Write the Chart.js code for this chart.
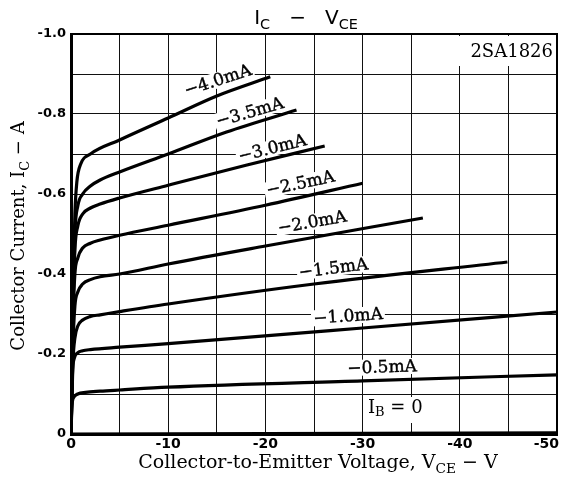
<!DOCTYPE html>
<html>
<head>
<meta charset="utf-8">
<script src="https://cdn.jsdelivr.net/npm/chart.js@4/dist/chart.umd.min.js"></script>
<style>
  html, body { margin: 0; padding: 0; background: #fff; }
  #wrap { width: 563px; height: 482px; }
</style>
</head>
<body>
<div id="wrap"><canvas id="c" width="563" height="482"></canvas></div>
<script>
// base current curves, Vce (V) / Ic (A)
const ib40V = [0, -0.2, -0.4, -0.6, -1, -2, -5, -10, -15, -20.5];
const ib40I = [0, -0.35, -0.55, -0.63, -0.675, -0.70, -0.735, -0.79, -0.845, -0.893];
const ib35V = [0, -0.2, -0.4, -0.7, -1.2, -2, -3, -5, -10, -16, -23.2];
const ib35I = [0, -0.3, -0.5, -0.57, -0.6, -0.62, -0.635, -0.655, -0.70, -0.755, -0.81];
const ib30V = [0, -0.2, -0.4, -0.7, -1.2, -2, -3, -5, -10, -18, -26.1];
const ib30I = [0, -0.3, -0.46, -0.52, -0.55, -0.565, -0.575, -0.59, -0.622, -0.672, -0.72];
const ib25V = [0, -0.2, -0.4, -0.7, -1.2, -2, -3, -5, -10, -20, -30];
const ib25I = [0, -0.28, -0.4, -0.44, -0.465, -0.477, -0.485, -0.497, -0.522, -0.572, -0.627];
const ib20V = [0, -0.2, -0.4, -0.7, -1.2, -2, -3, -5, -10, -20, -36.2];
const ib20I = [0, -0.22, -0.32, -0.355, -0.375, -0.386, -0.393, -0.40, -0.425, -0.47, -0.54];
const ib15V = [0, -0.2, -0.4, -0.7, -1.2, -2, -3, -5, -10, -25, -44.9];
const ib15I = [0, -0.18, -0.24, -0.27, -0.285, -0.294, -0.298, -0.306, -0.325, -0.375, -0.43];
const ib10V = [0, -0.15, -0.35, -0.7, -1.2, -2, -5, -10, -30, -50];
const ib10I = [0, -0.15, -0.19, -0.203, -0.208, -0.211, -0.217, -0.226, -0.265, -0.305];
const ib05V = [0, -0.1, -0.3, -0.7, -1.5, -3, -5, -10, -30, -50];
const ib05I = [0, -0.07, -0.092, -0.1, -0.104, -0.107, -0.11, -0.117, -0.133, -0.148];
const ib0V = [0, -50];
const ib0I = [0, -0.003];

const xTickLabels = ['0', '-10', '-20', '-30', '-40', '-50'];
const yTickLabels = ['0', '-0.2', '-0.4', '-0.6', '-0.8', '-1.0'];

// curve labels: text, Vce, Ic, angle (deg)
const curveLabelText = ['−4.0mA', '−3.5mA', '−3.0mA', '−2.5mA', '−2.0mA', '−1.5mA', '−1.0mA', '−0.5mA'];
const curveLabelV = [-15.1, -18.4, -20.7, -23.6, -24.8, -27, -28.5, -32];
const curveLabelI = [-0.885, -0.805, -0.715, -0.627, -0.53, -0.415, -0.295, -0.1675];
const curveLabelAngle = [18, 16, 14, 12, 10, 7, 4, 2];

const serif = '"DejaVu Serif", "Liberation Serif", serif';
const sans = '"DejaVu Sans", "Liberation Sans", sans-serif';

function pts(vs, is) {
  return vs.map((v, i) => ({ x: v, y: is[i] }));
}

const curves = [
  [ib40V, ib40I], [ib35V, ib35I], [ib30V, ib30I], [ib25V, ib25I],
  [ib20V, ib20I], [ib15V, ib15I], [ib10V, ib10I], [ib05V, ib05I], [ib0V, ib0I]
];

function xLabel(v) {
  const k = Math.round(-v);
  return k % 10 === 0 ? xTickLabels[k / 10] : '';
}

// draw text pieces with subscripts, returns width
function drawRich(ctx, parts, x, y, size, family, measureOnly) {
  let cx = x;
  parts.forEach(p => {
    const s = p.sub ? size * 0.72 : size;
    ctx.font = s + 'px ' + family;
    if (!measureOnly) ctx.fillText(p.t, cx, y + (p.sub ? size * 0.25 : 0));
    cx += ctx.measureText(p.t).width;
  });
  return cx - x;
}

const textPlugin = {
  id: 'texts',
  beforeDatasetsDraw(chart) {
    const ctx = chart.ctx;
    const xs = chart.scales.x, ys = chart.scales.y;
    ctx.save();
    ctx.textBaseline = 'middle';
    ctx.textAlign = 'center';
    curveLabelText.forEach((t, i) => {
      const px = xs.getPixelForValue(curveLabelV[i]);
      const py = ys.getPixelForValue(curveLabelI[i]);
      ctx.save();
      ctx.translate(px, py);
      ctx.rotate(-curveLabelAngle[i] * Math.PI / 180);
      ctx.font = '17px ' + serif;
      const w = ctx.measureText(t).width;
      ctx.fillStyle = '#fff';
      ctx.fillRect(-w / 2 - 2, -8, w + 4, 16);
      ctx.fillStyle = '#000';
      ctx.strokeStyle = '#000';
      ctx.lineWidth = 0.4;
      ctx.fillText(t, 0, 1);
      ctx.strokeText(t, 0, 1);
      ctx.restore();
    });

    // part number box
    const ca = chart.chartArea;
    ctx.fillStyle = '#fff';
    ctx.fillRect(456, ca.top + 2, ca.right - 458, 30);
    ctx.fillStyle = '#000';
    ctx.textAlign = 'right';
    ctx.font = '18px ' + serif;
    ctx.fillText('2SA1826', ca.right - 4, ca.top + 18);

    // IB = 0
    ctx.textAlign = 'left';
    ctx.fillStyle = '#fff';
    ctx.fillRect(366, 397, 60, 26);
    ctx.fillStyle = '#000';
    drawRich(ctx, [{ t: 'I' }, { t: 'B', sub: true }, { t: ' = 0' }], 368, 408, 18, serif);
    ctx.restore();
  },
  afterDraw(chart) {
    const ctx = chart.ctx;
    const ca = chart.chartArea;
    const xs = chart.scales.x;
    ctx.save();
    ctx.strokeStyle = '#000';
    ctx.lineWidth = 2;
    ctx.strokeRect(ca.left, ca.top, ca.right - ca.left, ca.bottom - ca.top);
    ctx.fillStyle = '#000';

    // x tick labels, last one kept inside the canvas
    ctx.font = 'bold 14px ' + sans;
    ctx.textBaseline = 'top';
    xs.ticks.forEach(t => {
      const lab = xLabel(t.value);
      if (!lab) return;
      const px = xs.getPixelForValue(t.value);
      const w = ctx.measureText(lab).width;
      ctx.textAlign = 'center';
      ctx.fillText(lab, Math.min(px, ca.right + 2 - w / 2), ca.bottom + 3);
    });

    ctx.textBaseline = 'alphabetic';
    ctx.textAlign = 'left';

    // title
    const title = [{ t: 'I' }, { t: 'C', sub: true }, { t: '   −   V' }, { t: 'CE', sub: true }];
    const tw = drawRich(ctx, title, 0, 0, 20, sans, true);
    drawRich(ctx, title, 306 - tw / 2, 24, 20, sans);

    // x axis title
    const xt = [{ t: 'Collector-to-Emitter Voltage, V' }, { t: 'CE', sub: true }, { t: ' − V' }];
    const xw = drawRich(ctx, xt, 0, 0, 19, serif, true);
    drawRich(ctx, xt, 318 - xw / 2, 468, 19, serif);

    // y axis title
    const yt = [{ t: 'Collector Current, I' }, { t: 'C', sub: true }, { t: ' − A' }];
    const yw = drawRich(ctx, yt, 0, 0, 18, serif, true);
    ctx.translate(24, 236);
    ctx.rotate(-Math.PI / 2);
    drawRich(ctx, yt, -yw / 2, 0, 18, serif);
    ctx.restore();
  }
};

new Chart(document.getElementById('c'), {
  type: 'scatter',
  data: {
    datasets: curves.map(c => ({
      data: pts(c[0], c[1]),
      showLine: true,
      borderColor: '#000',
      borderWidth: 3.2,
      pointRadius: 0,
      cubicInterpolationMode: 'monotone'
    }))
  },
  options: {
    responsive: false,
    animation: false,
    layout: { padding: { top: 34, right: 6, left: 0, bottom: 0 } },
    plugins: { legend: { display: false }, tooltip: { enabled: false } },
    scales: {
      x: {
        type: 'linear', min: -50, max: 0, reverse: true,
        afterFit(s) { s.height = 48; s.paddingLeft = 0; s.paddingRight = 0; },
        grid: { color: '#111', lineWidth: 1, drawTicks: false },
        border: { color: '#000', width: 3 },
        ticks: { stepSize: 5, display: false }
      },
      y: {
        type: 'linear', min: -1, max: 0, reverse: true,
        afterFit(s) { s.width = 71; s.paddingTop = 0; s.paddingBottom = 0; },
        grid: { color: '#111', lineWidth: 1, drawTicks: false },
        border: { color: '#000', width: 3 },
        ticks: {
          stepSize: 0.1, padding: 5, color: '#000',
          font: { family: sans, size: 13, weight: 'bold' },
          callback(v) {
            const k = Math.round(-v * 10);
            return k % 2 === 0 ? yTickLabels[k / 2] : '';
          }
        }
      }
    }
  },
  plugins: [textPlugin]
});
</script>
</body>
</html>
